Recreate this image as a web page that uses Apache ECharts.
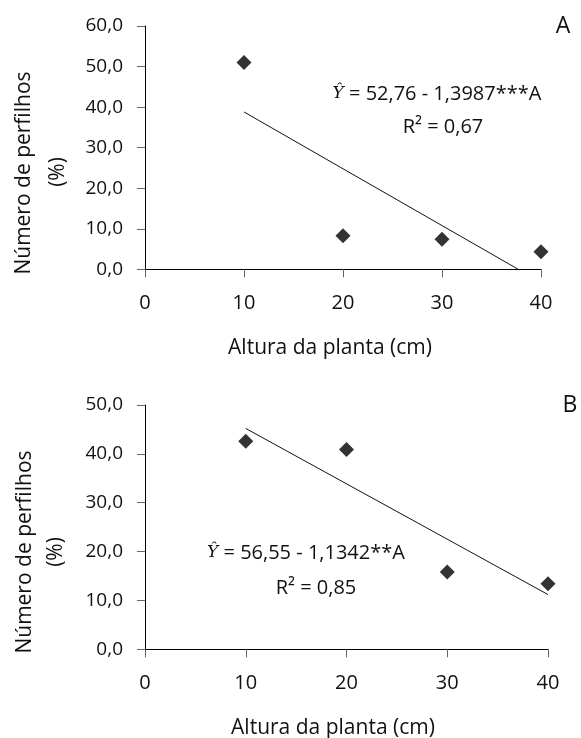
<!DOCTYPE html>
<html>
<head>
<meta charset="utf-8">
<script src="https://cdn.jsdelivr.net/npm/echarts@6/dist/echarts.min.js"></script>
<style>
  html, body { margin: 0; padding: 0; background: #fff; }
  #main { width: 581px; height: 738px; }
</style>
</head>
<body>
<div id="main"></div>
<script>
// dados
var alturas = [10, 20, 30, 40];
var perfilhosA = [51.0, 8.3, 7.4, 4.3];
var perfilhosB = [42.6, 40.9, 15.8, 13.4];
// retas de regressão (extremos)
var ajusteAx = [10, 37.7];
var ajusteAy = [38.8, 0];
var ajusteBx = [10, 40];
var ajusteBy = [45.2, 11.2];

var eixoYNome = 'Número de perfilhos';
var eixoXNome = 'Altura da planta (cm)';
var equacaoA = '52,76 - 1,3987***A';
var r2A = 'R² = 0,67';
var equacaoB = '56,55 - 1,1342**A';
var r2B = 'R² = 0,85';

var fonte = 'Open Sans';
var myChart = echarts.init(document.getElementById('main'));

function pares(xs, ys) {
  var out = [];
  for (var i = 0; i < xs.length; i++) out.push([xs[i], ys[i]]);
  return out;
}

function eixoX(idx) {
  return {
    gridIndex: idx, type: 'value', min: 0, max: 40, interval: 10,
    axisLine: { lineStyle: { color: '#000', width: 1 } },
    axisTick: { show: true, length: 8, lineStyle: { color: '#666' } },
    axisLabel: { fontFamily: fonte, fontSize: 20, color: '#111', margin: 24 },
    splitLine: { show: false }
  };
}

function eixoY(idx, max) {
  return {
    gridIndex: idx, type: 'value', min: 0, max: max, interval: 10,
    axisLine: { show: true, lineStyle: { color: '#000', width: 1 } },
    axisTick: { show: true, length: 8, lineStyle: { color: '#666' } },
    axisLabel: {
      fontFamily: fonte, fontSize: 19, color: '#111', margin: 22,
      formatter: function (v) { return v.toFixed(1).replace('.', ','); }
    },
    splitLine: { show: false }
  };
}

function texto(x, y, t, size, rot) {
  return {
    type: 'text', x: x, y: y, rotation: rot || 0,
    style: {
      text: t, fontFamily: fonte, fontSize: size, fill: '#111',
      align: 'center', verticalAlign: 'middle'
    }
  };
}

function equacao(x, y, t) {
  return {
    type: 'text', x: x, y: y,
    style: {
      text: '{y|Ŷ} = ' + t, fontFamily: fonte, fontSize: 20, fill: '#111',
      align: 'center', verticalAlign: 'middle',
      rich: { y: { fontFamily: 'DejaVu Serif', fontStyle: 'italic', fontSize: 17, fill: '#111' } }
    }
  };
}

var option = {
  animation: false,
  grid: [
    { left: 145, top: 26, width: 396, height: 243.3 },
    { left: 145, top: 405, width: 403, height: 244.3 }
  ],
  xAxis: [eixoX(0), eixoX(1)],
  yAxis: [eixoY(0, 60), eixoY(1, 50)],
  series: [
    {
      type: 'line', xAxisIndex: 0, yAxisIndex: 0, data: pares(ajusteAx, ajusteAy),
      showSymbol: false, lineStyle: { color: '#111', width: 1 }
    },
    {
      type: 'scatter', xAxisIndex: 0, yAxisIndex: 0, data: pares(alturas, perfilhosA),
      symbol: 'diamond', symbolSize: 15, itemStyle: { color: '#000' }
    },
    {
      type: 'line', xAxisIndex: 1, yAxisIndex: 1, data: pares(ajusteBx, ajusteBy),
      showSymbol: false, lineStyle: { color: '#111', width: 1 }
    },
    {
      type: 'scatter', xAxisIndex: 1, yAxisIndex: 1, data: pares(alturas, perfilhosB),
      symbol: 'diamond', symbolSize: 15, itemStyle: { color: '#000' }
    }
  ],
  graphic: [
    texto(24, 173, eixoYNome, 21, Math.PI / 2),
    texto(58, 172, '(%)', 21, Math.PI / 2),
    texto(330, 348, eixoXNome, 21),
    texto(563, 26, 'A', 23),
    equacao(437, 94, equacaoA),
    texto(443, 127, r2A, 20),

    texto(25, 552, eixoYNome, 21, Math.PI / 2),
    texto(56, 552, '(%)', 21, Math.PI / 2),
    texto(333, 728, eixoXNome, 21),
    texto(570, 405, 'B', 23),
    equacao(306, 553, equacaoB),
    texto(316, 588, r2B, 20)
  ]
};
myChart.setOption(option);
</script>
</body>
</html>
